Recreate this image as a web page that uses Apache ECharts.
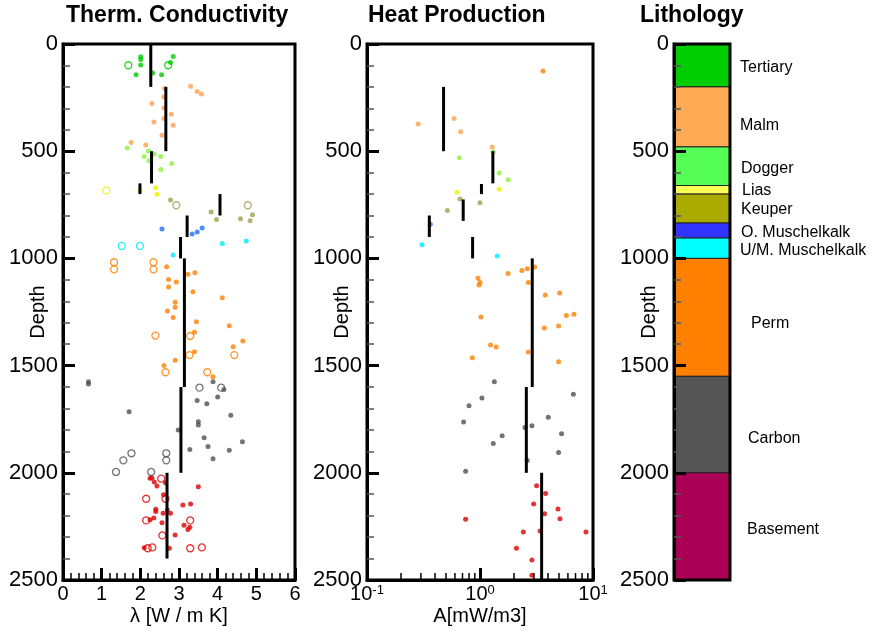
<!DOCTYPE html>
<html><head><meta charset="utf-8">
<script src="https://cdn.jsdelivr.net/npm/echarts@6/dist/echarts.min.js"></script>
<style>html,body{margin:0;padding:0;background:#fff}#c{width:876px;height:631px}</style>
</head><body><div id="c"></div>
<script>
// ---------- Lithology ----------
const layerNames = ['Tertiary','Malm','Dogger','Lias','Keuper','O. Muschelkalk','U/M. Muschelkalk','Perm','Carbon','Basement'];
const layerTop    = [0, 200, 480, 660, 700, 835, 905, 1000, 1550, 2000];
const layerBottom = [200, 480, 660, 700, 835, 905, 1000, 1550, 2000, 2500];
const labelDepths = [112, 382, 583, 686, 774, 881, 965, 1306, 1842, 2267];
const layerFill   = ['#00CC00','#FFAA55','#55FF55','#FFFF55','#AAAA00','#3333FF','#00FFFF','#FF8000','#555555','#AA0055'];
const pointColors = ['#00CC00','#FFA050','#90F040','#F0F000','#A0A050','#1E70FF','#00E8FF','#FF8000','#505050','#DD0000'];

// ---------- Thermal conductivity: mean per layer ----------
const tcMean       = [2.27, 2.66, 2.29, 1.99, 4.06, 3.21, 3.04, 3.14, 3.05, 2.69];
const tcMeanTop    = [0, 200, 500, 650, 700, 800, 900, 1000, 1600, 2000];
const tcMeanBottom = [200, 500, 650, 700, 800, 900, 1000, 1600, 2000, 2400];

// ---------- Heat production: mean per layer (Tertiary has none) ----------
const hpMean       = [null, 0.476, 1.30, 1.03, 0.71, 0.356, 0.86, 2.90, 2.57, 3.51];
const hpMeanTop    = [null, 200, 500, 653, 725, 800, 900, 1000, 1600, 2000];
const hpMeanBottom = [null, 500, 650, 700, 825, 900, 1000, 1600, 2000, 2500];

// ---------- Thermal conductivity samples [λ, depth, open(1)/filled(0)] ----------
const tcTertiary = [[2.01,60,0],[2.01,72,0],[2.01,98,0],[1.69,99,1],[1.89,143,0],[2.32,135,0],[2.55,143,0],[2.85,58,0],[2.78,86,0],[2.72,99,1]];
const tcMalm = [[3.30,197,0],[3.47,221,0],[3.58,233,0],[2.63,207,0],[2.61,247,0],[2.30,278,0],[2.61,298,0],[2.80,328,0],[2.35,364,0],[2.61,347,0],[2.85,379,0],[2.56,426,0],[1.76,459,0],[2.14,471,0]];
const tcDogger = [[1.66,485,0],[2.21,499,0],[2.36,513,0],[2.10,525,0],[2.53,525,0],[2.22,544,0],[2.81,557,0],[2.53,585,0]];
const tcLias = [[1.12,683,1],[1.99,683,0],[2.40,670,0],[2.43,701,0]];
const tcKeuper = [[2.78,728,0],[2.93,752,1],[3.83,784,0],[3.97,819,0],[4.78,752,1],[4.90,796,0],[4.59,815,0],[4.84,824,0]];
const tcOMuschelkalk = [[2.56,863,0],[3.34,886,0],[3.47,877,0],[3.60,858,0]];
const tcUMMuschelkalk = [[1.52,942,1],[1.99,942,1],[2.85,984,0],[4.12,931,0],[4.74,919,0]];
const tcPerm = [[1.32,1018,1],[1.32,1051,1],[2.34,1018,1],[2.34,1051,1],[2.68,1039,0],[3.23,1074,0],[3.41,1067,0],[2.73,1098,0],[2.93,1110,0],[2.73,1133,0],[3.36,1155,0],[4.12,1183,0],[2.90,1205,0],[2.90,1228,0],[2.70,1245,0],[2.85,1276,0],[3.45,1295,0],[4.30,1314,0],[2.39,1360,1],[3.29,1362,1],[3.40,1345,0],[4.65,1385,0],[4.40,1412,0],[4.43,1451,1],[3.27,1451,1],[3.40,1435,0],[2.90,1475,0],[2.61,1499,0],[2.65,1531,1],[3.73,1531,1],[3.88,1552,0]];
const tcCarbon = [[0.66,1575,0],[0.66,1586,0],[3.88,1575,0],[3.53,1603,1],[4.09,1603,1],[4.16,1611,0],[4.00,1646,0],[3.47,1663,0],[3.72,1678,0],[1.71,1715,0],[4.34,1732,0],[3.50,1762,0],[3.50,1777,0],[2.98,1800,0],[3.65,1836,0],[4.64,1855,0],[3.75,1877,0],[3.28,1891,0],[4.30,1895,0],[3.88,1934,0],[1.77,1909,1],[1.56,1942,1],[2.67,1909,1],[2.67,1942,1],[1.37,1996,1],[2.28,1996,1]];
const tcBasement = [[2.25,2026,0],[2.30,2024,0],[2.54,2027,1],[2.36,2043,0],[2.43,2062,0],[2.65,2046,0],[3.50,2065,0],[2.60,2102,0],[2.15,2121,1],[2.65,2121,1],[3.10,2150,0],[3.30,2145,0],[2.40,2170,0],[2.40,2180,0],[2.59,2189,0],[2.78,2189,0],[2.70,2174,0],[2.15,2222,1],[2.25,2219,0],[2.35,2211,0],[2.56,2233,0],[3.29,2222,1],[3.13,2245,0],[3.28,2254,0],[3.23,2264,0],[2.90,2290,0],[2.57,2292,1],[2.10,2349,0],[2.19,2352,1],[2.31,2348,1],[2.75,2352,0],[3.29,2352,1],[3.59,2348,1]];

// ---------- Heat production samples [A, depth] ----------
const hpTertiary = [[3.61,126]];
const hpMalm = [[0.284,373],[0.589,347],[0.673,409],[1.285,480]];
const hpDogger = [[1.31,502],[0.656,530],[1.48,602],[1.78,633]];
const hpLias = [[0.626,692],[1.48,678]];
const hpKeuper = [[0.665,723],[1.0,741],[0.514,777]];
const hpOMuschelkalk = [[0.363,841]];
const hpUMMuschelkalk = [[0.307,936],[1.42,989]];
const hpPerm = [[1.77,1071],[2.35,1057],[2.62,1048],[3.04,1040],[0.96,1093],[1.0,1112],[0.98,1124],[2.68,1112],[3.78,1171],[5.07,1161],[1.02,1273],[5.81,1266],[6.79,1261],[3.71,1325],[4.96,1315],[1.24,1404],[1.39,1413],[2.68,1437],[0.855,1463],[4.96,1482]];
const hpCarbon = [[1.34,1575],[6.70,1634],[1.04,1651],[0.80,1687],[4.02,1741],[0.716,1763],[2.88,1780],[2.50,1789],[1.57,1827],[5.27,1818],[1.31,1863],[4.96,1905],[2.62,1943],[0.746,1993]];
const hpBasement = [[3.17,2060],[3.81,2096],[2.98,2146],[4.90,2169],[3.73,2191],[5.10,2214],[0.746,2217],[2.42,2276],[3.40,2271],[8.67,2276],[2.10,2352],[2.88,2407],[2.88,2478]];

// axis ticks (minor ticks of the logarithmic heat-production axis)
const hpMinorTicks = [0.2,0.3,0.4,0.5,0.6,0.7,0.8,0.9,2,3,4,5,6,7,8,9];

const tcSets = [tcTertiary,tcMalm,tcDogger,tcLias,tcKeuper,tcOMuschelkalk,tcUMMuschelkalk,tcPerm,tcCarbon,tcBasement];
const hpSets = [hpTertiary,hpMalm,hpDogger,hpLias,hpKeuper,hpOMuschelkalk,hpUMMuschelkalk,hpPerm,hpCarbon,hpBasement];
const hpSetColors = pointColors.slice(); hpSetColors[0] = '#FF8000'; // the shallow sample is drawn orange
const labelIndentPx = [10,10,11,12,11,11,10,21,18,17];

const FF = '"Liberation Sans", Arial, sans-serif';
const txt = {fontSize: 20, color: '#000', fontFamily: FF};
const tickTxt = {fontSize: 22, color: '#000', fontFamily: FF};

function yAx(gi, gap, z) {
  return {
    type: 'value', gridIndex: gi, inverse: true, min: 0, max: 2500, interval: 500, z: z || 0,
    name: 'Depth', nameLocation: 'middle', nameRotate: 90, nameGap: gap, nameTextStyle: txt,
    nameMoveOverlap: false,
    axisLine: {show: true, onZero: false, lineStyle: {color: '#000', width: 3}},
    axisTick: {show: true, inside: true, length: 12, lineStyle: {color: '#000', width: 3}},
    minorTick: {show: true, splitNumber: 5, length: 7, lineStyle: {color: '#555', width: 1.5}},
    axisLabel: Object.assign({margin: 5, formatter: v => String(v)}, tickTxt),
    splitLine: {show: false}, minorSplitLine: {show: false}
  };
}

const series = [];
tcSets.forEach((set, i) => {
  series.push({
    type: 'scatter', xAxisIndex: 0, yAxisIndex: 0, z: 4,
    data: set.map(p => p[2] ? {value: [p[0], p[1]], symbolSize: 7, itemStyle: {color: 'rgba(0,0,0,0)', borderColor: pointColors[i], borderWidth: 1.3}}
                            : {value: [p[0], p[1]], symbolSize: 5, itemStyle: {color: pointColors[i]}}),
    symbol: 'circle'
  });
});
hpSets.forEach((set, i) => {
  series.push({
    type: 'scatter', xAxisIndex: 1, yAxisIndex: 1, z: 4, symbol: 'circle', symbolSize: 5,
    itemStyle: {color: hpSetColors[i]},
    data: set.map(p => [p[0], p[1]])
  });
});
function meanLines(xi, yi, mean, top, bot) {
  const data = [];
  mean.forEach((m, i) => { if (m !== null) data.push([m, top[i], bot[i]]); });
  return {
    type: 'custom', xAxisIndex: xi, yAxisIndex: yi, z: 5, data: data,
    encode: {x: 0, y: [1, 2]},
    renderItem: (p, api) => {
      const a = api.coord([api.value(0), api.value(1)]);
      const b = api.coord([api.value(0), api.value(2)]);
      return {type: 'line', shape: {x1: a[0], y1: a[1], x2: b[0], y2: b[1]}, style: {stroke: '#000', lineWidth: 3}};
    }
  };
}
series.push(meanLines(0, 0, tcMean, tcMeanTop, tcMeanBottom));
series.push(meanLines(1, 1, hpMean, hpMeanTop, hpMeanBottom));
// minor ticks (2..9 per decade) of the log axis, placed through the log scale
series.push({
  type: 'custom', xAxisIndex: 1, yAxisIndex: 1, z: 6, silent: true,
  data: hpMinorTicks.map(v => [v, 2500]),
  encode: {x: 0, y: 1},
  renderItem: (p, api) => {
    const a = api.coord([api.value(0), api.value(1)]);
    return {type: 'line', shape: {x1: a[0], y1: a[1], x2: a[0], y2: a[1] - 7}, style: {stroke: '#000', lineWidth: 1.5}};
  }
});
series.push({
  type: 'custom', xAxisIndex: 2, yAxisIndex: 2, z: 2,
  data: layerNames.map((n, i) => [0, layerTop[i], 1, layerBottom[i]]),
  encode: {x: [0, 2], y: [1, 3]},
  renderItem: (p, api) => {
    const i = p.dataIndex;
    const a = api.coord([0, layerTop[i]]);
    const b = api.coord([1, layerBottom[i]]);
    const l = api.coord([1, labelDepths[i]]);
    return {type: 'group', children: [
      {type: 'rect', shape: {x: a[0], y: a[1], width: b[0] - a[0], height: b[1] - a[1]},
       style: {fill: layerFill[i], stroke: '#222', lineWidth: 1}},
      {type: 'text', style: {text: layerNames[i], x: l[0] + labelIndentPx[i], y: l[1], fill: '#000',
       font: '16px ' + FF, verticalAlign: 'middle', align: 'left'}}
    ]};
  }
});

const gridBase = {top: 44, height: 536, show: true, borderColor: '#000', borderWidth: 3,
  backgroundColor: 'rgba(0,0,0,0)', containLabel: false, outerBoundsMode: 'none'};
const option = {
  backgroundColor: '#fff',
  animation: false,
  title: [
    {text: 'Therm. Conductivity', left: 66, top: 4, padding: 0, textStyle: {fontSize: 23, fontWeight: 'bold', color: '#000', fontFamily: FF}},
    {text: 'Heat Production', left: 368, top: 4, padding: 0, textStyle: {fontSize: 23, fontWeight: 'bold', color: '#000', fontFamily: FF}},
    {text: 'Lithology', left: 640, top: 4, padding: 0, textStyle: {fontSize: 23, fontWeight: 'bold', color: '#000', fontFamily: FF}}
  ],
  grid: [
    Object.assign({left: 63, width: 232}, gridBase),
    Object.assign({left: 367, width: 226}, gridBase),
    Object.assign({left: 674, width: 56, z: 3}, gridBase)
  ],
  xAxis: [
    {type: 'value', gridIndex: 0, min: 0, max: 6, interval: 1, position: 'bottom',
     name: 'λ [W / m K]', nameLocation: 'middle', nameGap: 26, nameTextStyle: txt, nameMoveOverlap: false,
     axisLine: {show: true, onZero: false, lineStyle: {color: '#000', width: 3}},
     axisTick: {show: true, inside: true, length: 12, lineStyle: {color: '#000', width: 3}},
     minorTick: {show: true, splitNumber: 5, length: 7, lineStyle: {color: '#000', width: 1.5}},
     axisLabel: Object.assign({margin: 4}, txt), splitLine: {show: false}},
    {type: 'log', logBase: 10, gridIndex: 1, min: 0.1, max: 10, position: 'bottom',
     name: 'A[mW/m3]', nameLocation: 'middle', nameGap: 26, nameTextStyle: txt, nameMoveOverlap: false,
     axisLine: {show: true, onZero: false, lineStyle: {color: '#000', width: 3}},
     axisTick: {show: true, inside: true, length: 12, lineStyle: {color: '#000', width: 3}},
     minorTick: {show: false},
     axisLabel: {margin: 4, color: '#000',
       formatter: v => '{b|10}{s|' + Math.round(Math.log10(v)) + '}',
       rich: {b: {fontSize: 20, fontFamily: FF, color: '#000'}, s: {fontSize: 13, fontFamily: FF, color: '#000', verticalAlign: 'top', padding: [0, 0, 6, 0]}}},
     splitLine: {show: false}},
    {type: 'value', gridIndex: 2, min: 0, max: 1, show: false}
  ],
  yAxis: [yAx(0, 15), yAx(1, 15), yAx(2, 15, 10)],
  series: series
};
const chart = echarts.init(document.getElementById('c'), null, {renderer: 'canvas'});
chart.setOption(option);
</script></body></html>
